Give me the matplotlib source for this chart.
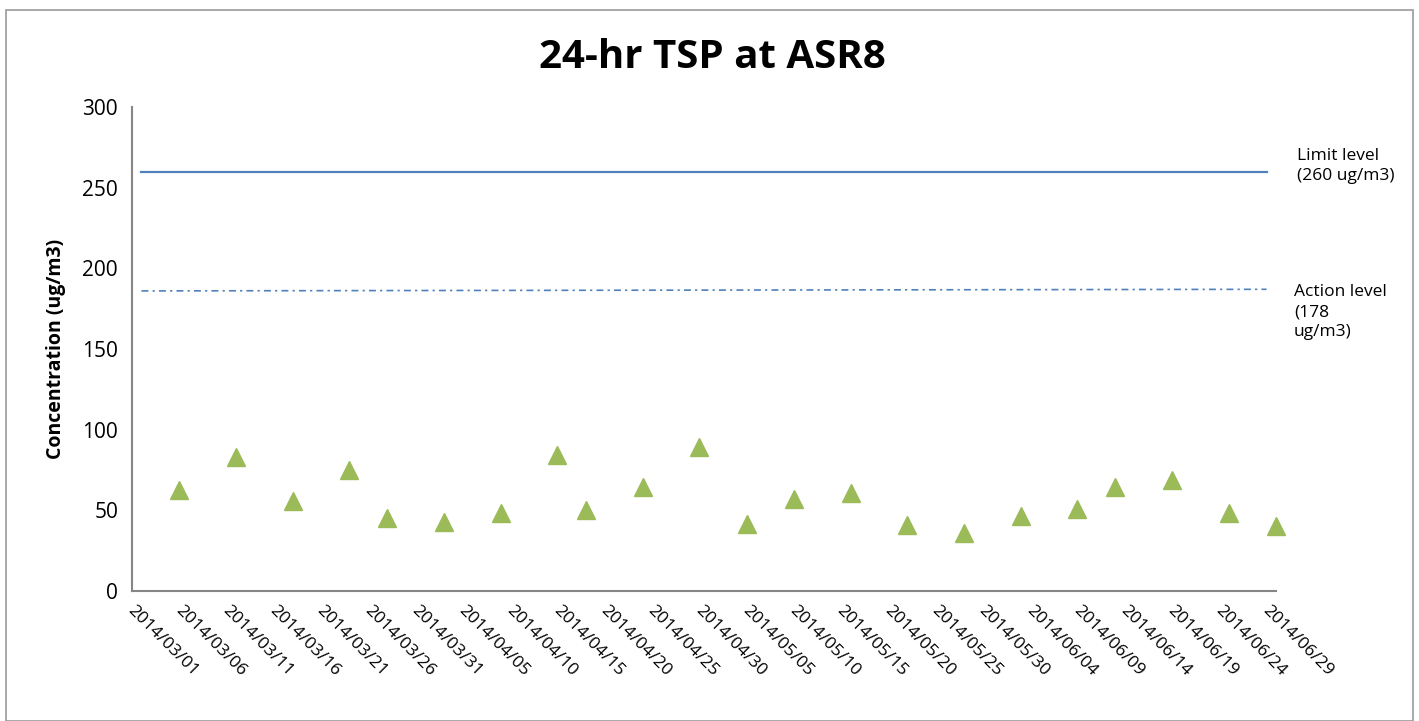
import numpy as np
import matplotlib
matplotlib.use('Agg')
from matplotlib import pyplot as plt
import matplotlib.dates as mdates
import matplotlib.transforms as mtransforms
from matplotlib.patches import Rectangle

plt.rcParams['font.family'] = ['Open Sans', 'DejaVu Sans']
plt.rcParams['lines.scale_dashes'] = False

# measured 24-hr TSP values
dates = np.array(['2014-03-06', '2014-03-12', '2014-03-18', '2014-03-24', '2014-03-28',
                  '2014-04-03', '2014-04-09', '2014-04-15', '2014-04-18', '2014-04-24',
                  '2014-04-30', '2014-05-05', '2014-05-10', '2014-05-16', '2014-05-22',
                  '2014-05-28', '2014-06-03', '2014-06-09', '2014-06-13', '2014-06-19',
                  '2014-06-25', '2014-06-30'], dtype='datetime64[D]')
tsp = [62.5, 83, 56, 75, 45, 43, 48.5, 84.5, 50, 64.5,
       89.5, 41.5, 57, 60.5, 41, 36, 46.5, 51, 64.5, 68.5,
       48.5, 40]

level_dates = np.array(['2014-03-02', '2014-06-29'], dtype='datetime64[D]')
limit_level = [260, 260]
action_level = [186, 187]

tick_dates = np.arange(np.datetime64('2014-03-01'), np.datetime64('2014-07-01'), 5)
x_min = np.datetime64('2014-03-01')
x_max = np.datetime64('2014-06-30')

fig = plt.figure(figsize=(14.19, 7.21), dpi=100)
fig.patches.append(Rectangle((6 / 1419, 0), 1407 / 1419, 711 / 721, transform=fig.transFigure,
                             fill=False, edgecolor='#9a9a9a', linewidth=1.2))
ax = fig.add_axes([132 / 1419, 1 - 591 / 721, 1144 / 1419, (591 - 107) / 721])

ax.plot(level_dates, limit_level, color='#4F81BD', linewidth=1.6)
ax.plot(level_dates, action_level, color='#4F81BD', linewidth=1.2, dashes=[5, 3, 1.6, 3])
ax.plot(dates, tsp, linestyle='none', marker='^', markersize=13.5, color='#9BBB59',
        clip_on=False)

ax.set_xlim(x_min, x_max)
ax.set_ylim(0, 300)
ax.set_yticks(np.arange(0, 301, 50))
ax.set_xticks(tick_dates)
ax.xaxis.set_major_formatter(mdates.DateFormatter('%Y/%m/%d'))
ax.tick_params(axis='x', length=0, pad=8, labelsize=12.5)
ax.tick_params(axis='y', length=0, pad=10, labelsize=15)
shift = mtransforms.ScaledTranslation(4 / 100, 0, fig.dpi_scale_trans)
for lab in ax.get_xticklabels():
    lab.set_rotation(-45)
    lab.set_ha('left')
    lab.set_va('top')
    lab.set_rotation_mode('anchor')
    lab.set_transform(lab.get_transform() + shift)

for side in ['top', 'right']:
    ax.spines[side].set_visible(False)
for side in ['left', 'bottom']:
    ax.spines[side].set_color('#868686')
    ax.spines[side].set_linewidth(1.5)

ax.set_ylabel('Concentration (ug/m3)', fontsize=14, fontweight='bold', labelpad=12)
fig.text(712 / 1419, 1 - 58 / 721, '24-hr TSP at ASR8', fontsize=29, fontweight='bold',
         ha='center', va='center')

fig.text(1297 / 1419, 1 - 148 / 721, 'Limit level\n(260 ug/m3)', fontsize=12.5,
         ha='left', va='top', linespacing=1.35)
fig.text(1294 / 1419, 1 - 284 / 721, 'Action level\n(178\nug/m3)', fontsize=12.5,
         ha='left', va='top', linespacing=1.35)

fig.savefig('out.png', dpi=100)
plt.close()
